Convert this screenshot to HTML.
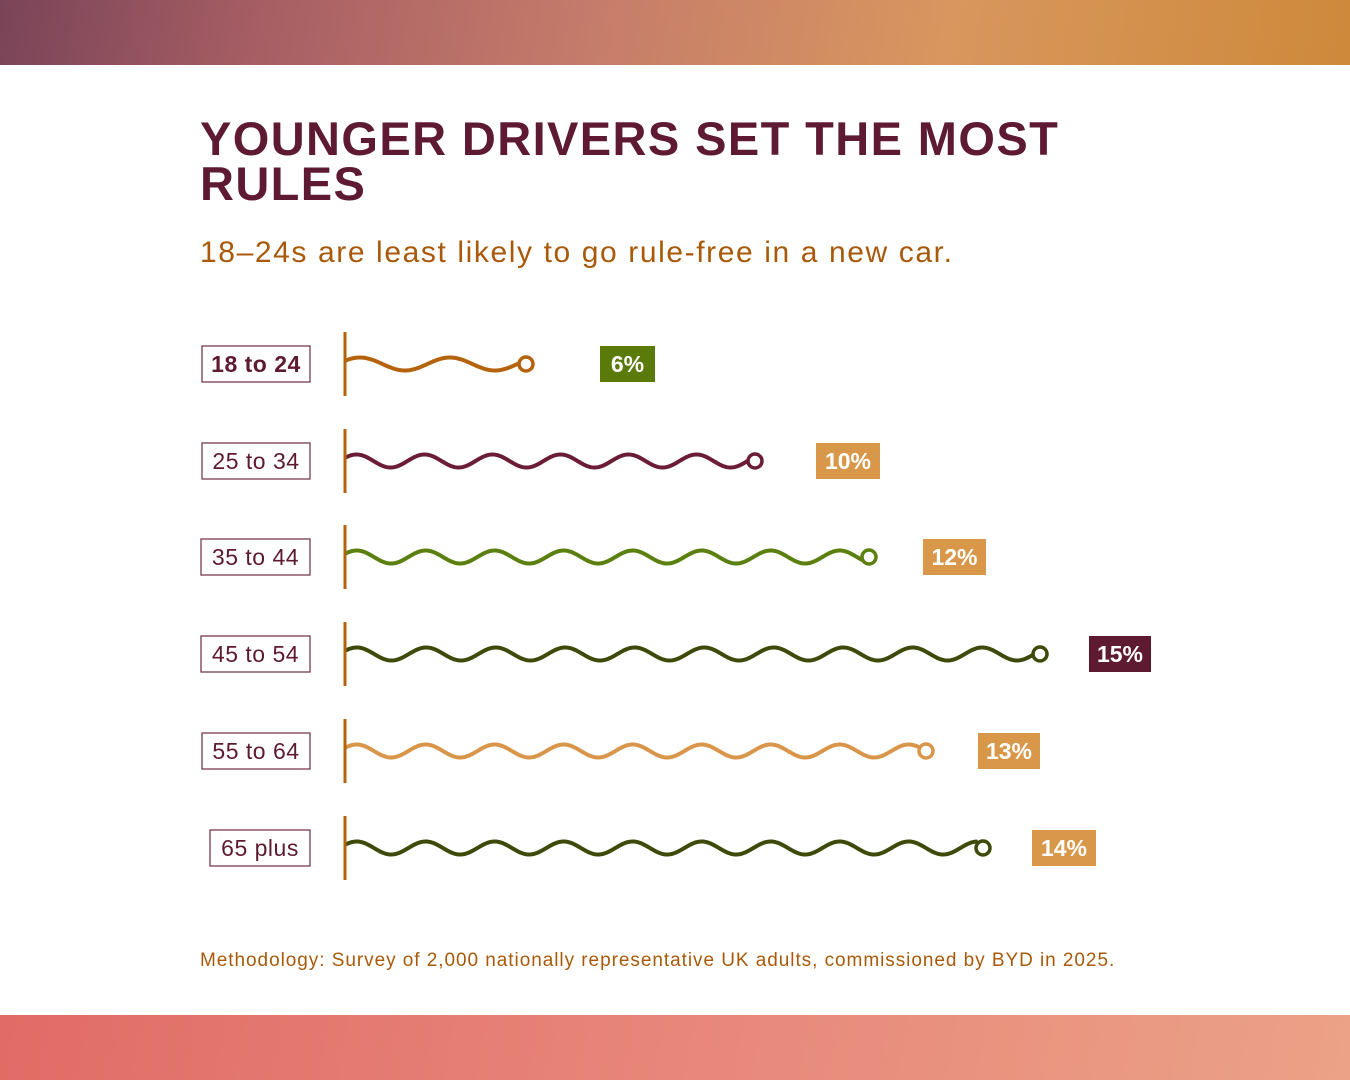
<!DOCTYPE html>
<html><head><meta charset="utf-8"><style>
body{margin:0;width:1350px;height:1080px;background:#fff;position:relative;overflow:hidden;font-family:"Liberation Sans",sans-serif}
.top{position:absolute;left:0;top:0;width:1350px;height:65px;background:linear-gradient(100deg,#7a4458 0%,#a85f64 20%,#c77d6a 45%,#d9965e 70%,#cd8a3a 100%)}
.bot{position:absolute;left:0;top:1015px;width:1350px;height:65px;background:linear-gradient(100deg,#e06c66 0%,#e8867a 50%,#eba287 100%)}
h1{position:absolute;left:200px;top:116px;margin:0;font-size:47px;line-height:45px;font-weight:bold;color:#5e1a32;letter-spacing:1.4px}
.sub{position:absolute;left:200px;top:236px;font-size:30px;color:#a85a0a;letter-spacing:1.6px}
.meth{position:absolute;left:200px;top:950px;font-size:19px;color:#a85a0a;letter-spacing:0.95px}
</style></head><body>
<div class="top"></div>
<h1>YOUNGER DRIVERS SET THE MOST<br>RULES</h1>
<div class="sub">18–24s are least likely to go rule-free in a new car.</div>
<svg id="s" width="1350" height="1080" style="position:absolute;left:0;top:0" font-family="Liberation Sans, sans-serif"></svg>
<div class="meth">Methodology: Survey of 2,000 nationally representative UK adults, commissioned by BYD in 2025.</div>
<div class="bot"></div>
<script>
var rows=[
["18 to 24",364,526,90,"#b5620c","6%","#5a7a0a",600,655,202,true],
["25 to 34",461,755,68,"#6a1d35","10%","#d9974a",816,880,202,false],
["35 to 44",557,869,69,"#5b8010","12%","#d9974a",923,986,201,false],
["45 to 54",654,1040,69.5,"#3d4a0a","15%","#5e1a30",1089,1151,201,false],
["55 to 64",751,926,69,"#d9964a","13%","#d9974a",978,1040,202,false],
["65 plus",848,983,69,"#3d4a0a","14%","#d9974a",1032,1096,210,false]];
var h="";
rows.forEach(function(r){
 var c=r[1],x0=346,x1=r[2]-7,P=r[3],d="";
 for(var x=x0;x<=x1;x+=1){var y=c-6.5*Math.sin(2*Math.PI*(x-x0)/P+0.6);d+=(x==x0?"M":"L")+x+" "+y.toFixed(2)+" ";}
 h+='<rect x="'+r[9]+'" y="'+(c-18)+'" width="'+(310-r[9])+'" height="36" fill="#fff" stroke="#7a3a50" stroke-width="1.3"/>';
 h+='<text x="'+((r[9]+310)/2)+'" y="'+(c+8)+'" text-anchor="middle" font-size="23" letter-spacing="0.5" fill="#5e1a32" font-weight="'+(r[10]?'bold':'normal')+'">'+r[0]+'</text>';
 h+='<path d="'+d+'" fill="none" stroke="'+r[4]+'" stroke-width="4" stroke-linecap="round"/>';
 h+='<circle cx="'+r[2]+'" cy="'+c+'" r="7" fill="#fff" stroke="'+r[4]+'" stroke-width="3.5"/>';
 h+='<line x1="345" x2="345" y1="'+(c-32)+'" y2="'+(c+32)+'" stroke="#b5620c" stroke-width="3"/>';
 h+='<rect x="'+r[7]+'" y="'+(c-18)+'" width="'+(r[8]-r[7])+'" height="36" fill="'+r[6]+'"/>';
 h+='<text x="'+((r[7]+r[8])/2)+'" y="'+(c+8)+'" text-anchor="middle" font-size="23" font-weight="bold" fill="#fff">'+r[5]+'</text>';
});
document.getElementById("s").innerHTML=h;
</script>
</body></html>
